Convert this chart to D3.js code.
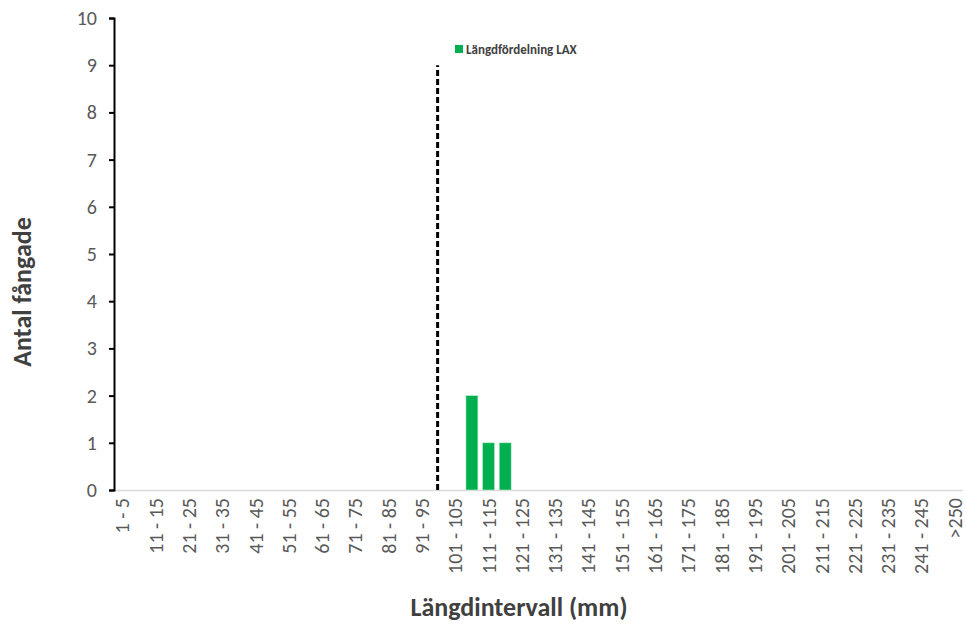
<!DOCTYPE html>
<html><head><meta charset="utf-8">
<script src="https://cdn.jsdelivr.net/npm/d3@7"></script>
<style>body{margin:0;background:#fff;} text{font-family:Carlito, Lato, "Open Sans", sans-serif;}</style>
</head><body>
<svg id="c" width="966" height="624"></svg>
<script>
// categories
const categories = [];
for (let i = 0; i < 50; i++) categories.push((i*5+1) + " - " + (i*5+5));
categories.push(">250");
const tickLabels = categories.filter((d,i)=> i%2===0 || d===">250");
// series: Längdfördelning LAX
const barCats = ["106 - 110", "111 - 115", "116 - 120"];
const barVals = [2, 1, 1];
// reference line (dashed)
const refCat = "96 - 100";
const refVal = 9;
const yTicks = [0,1,2,3,4,5,6,7,8,9,10];

const svg = d3.select("#c");
const m = {l:114, r:963, t:18, b:490};
const xc = d3.scaleBand().domain(categories).range([m.l, m.r]);
const y = d3.scaleLinear().domain([0,10]).range([m.b, m.t]);

// x axis line
svg.append("line").attr("x1", m.l).attr("x2", m.r).attr("y1", m.b+0.5).attr("y2", m.b+0.5)
  .attr("stroke", "#d9d9d9").attr("stroke-width", 1.5);

// bars
svg.selectAll("rect.bar").data(barCats.map((c,i)=>({c, v:barVals[i]}))).enter().append("rect")
  .attr("class","bar")
  .attr("x", d => xc(d.c) + xc.bandwidth()/2 - 6)
  .attr("width", 12)
  .attr("y", d => y(d.v))
  .attr("height", d => y(0) - y(d.v))
  .attr("fill", "#00b050").attr("stroke", "#c6efce").attr("stroke-width", 0.6);

// dashed reference line
const rx = xc(refCat) + xc.bandwidth()/2 - 1;
svg.append("line").attr("x1", rx).attr("x2", rx).attr("y1", y(0)).attr("y2", y(refVal))
  .attr("stroke", "#000").attr("stroke-width", 3).attr("stroke-dasharray", "6,3");

// y axis
const ya = svg.append("g").attr("transform", `translate(${m.l},0)`)
  .call(d3.axisLeft(y).tickValues(yTicks).tickSize(5).tickPadding(12).tickFormat(d3.format("d")));
ya.select(".domain").attr("stroke", "#000").attr("stroke-width", 2);
ya.selectAll(".tick line").attr("stroke", "#000").attr("stroke-width", 2);
ya.selectAll(".tick text").attr("font-size", 20).attr("fill", "#595959").style("font-family", "Carlito, Lato, sans-serif");

// x axis labels
const xa = svg.append("g").attr("transform", `translate(0,${m.b})`)
  .call(d3.axisBottom(xc).tickValues(tickLabels).tickSize(0).tickPadding(0));
xa.select(".domain").remove();
xa.selectAll(".tick text")
  .attr("transform", "rotate(-90)")
  .attr("x", -8).attr("y", 0).attr("dy", "0.35em")
  .attr("text-anchor", "end")
  .attr("font-size", 20).attr("fill", "#595959").style("font-family", "Carlito, Lato, sans-serif");

// axis titles
svg.append("text").attr("x", 519).attr("y", 616).attr("text-anchor", "middle")
  .attr("font-size", 26).attr("font-weight", "bold").attr("fill", "#404040").text("Längdintervall (mm)");
svg.append("text").attr("transform", "translate(31,292) rotate(-90)").attr("text-anchor", "middle")
  .attr("font-size", 26).attr("font-weight", "bold").attr("fill", "#404040").text("Antal fångade");

// legend
svg.append("rect").attr("x", 455).attr("y", 45).attr("width", 8).attr("height", 8).attr("fill", "#00b050");
svg.append("text").attr("x", 466).attr("y", 54).attr("font-size", 13).attr("font-weight", "bold")
  .attr("fill", "#404040").text("Längdfördelning LAX");
</script>
</body></html>
